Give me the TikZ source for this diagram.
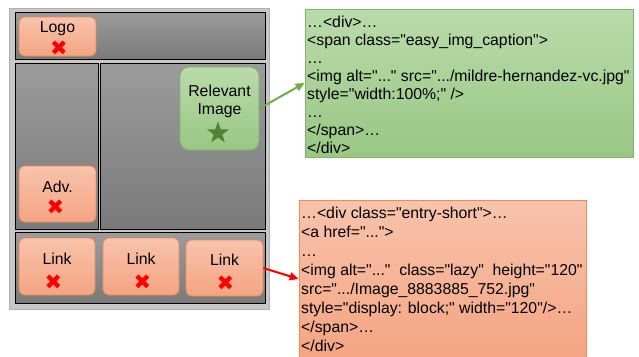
\documentclass[tikz,border=0pt]{standalone}
\usepackage{fontspec}
\setmainfont{Liberation Sans}[Ligatures=TeXOff]
\newfontfamily\symfont{DejaVu Sans}
\usetikzlibrary{arrows.meta,shapes.geometric}
\definecolor{outerfill}{HTML}{C8C8C8}
\definecolor{outerdraw}{HTML}{B2B2B2}
\definecolor{greytop}{HTML}{9C9C9C}
\definecolor{greybot}{HTML}{7A7A7A}
\definecolor{ortop}{HTML}{F8C3AC}
\definecolor{orbot}{HTML}{F4A482}
\definecolor{ordraw}{HTML}{EE8A52}
\definecolor{grtop}{HTML}{BADBAB}
\definecolor{grbot}{HTML}{99C784}
\definecolor{grdraw}{HTML}{82B366}
\definecolor{stargreen}{HTML}{548235}
\definecolor{arrgreen}{HTML}{70AD47}
\definecolor{xred}{HTML}{FF0000}
\tikzset{
  panel/.style={draw=black, line width=0.9pt, top color=greytop, bottom color=greybot, inner sep=0pt},
  orbox/.style={draw=ordraw, line width=0.8pt, rounded corners=6pt, top color=ortop, bottom color=orbot, inner sep=0pt},
  grbox/.style={draw=grdraw, line width=0.8pt, rounded corners=9pt, top color=grtop, bottom color=grbot, inner sep=0pt},
  lbl/.style={font=\fontsize{15.8}{18}\selectfont, inner sep=0pt, align=center},
  xmark/.style={text=xred, font=\symfont\fontsize{21}{21}\selectfont, inner sep=0pt},
  code/.style={font=\fontsize{15.8}{18}\selectfont, inner sep=0pt, align=left, anchor=north west},
  conn/.style={line width=2pt, -{Triangle[length=9pt,width=8pt]}}
}
\begin{document}
\begin{tikzpicture}[x=1pt,y=-1pt]
\useasboundingbox (0,0) rectangle (639,356);
% outer frame
\draw[draw=outerdraw, fill=outerfill, line width=0.8pt] (9,8) rectangle (269,309);
% panels
\node[panel, minimum width=250pt, minimum height=47pt] (header) at (140,35.5) {};
\node[panel, minimum width=83pt, minimum height=166pt] (side) at (56.5,146) {};
\node[panel, minimum width=165pt, minimum height=166pt] (main) at (182.5,146) {};
\node[panel, minimum width=250pt, minimum height=71pt] (footer) at (140,267.5) {};
% logo
\node[orbox, minimum width=77pt, minimum height=39pt] (logo) at (57.5,36.5) {};
\node[lbl] (logot) at (57.5,29) {Logo};
\node[xmark] (logox) at (59,48) {✖};
% adv
\node[orbox, minimum width=77pt, minimum height=56pt] (adv) at (57.5,194) {};
\node[lbl] (advt) at (57.5,187) {Adv.};
\node[xmark] (advx) at (55.5,207) {✖};
% links
\node[orbox, minimum width=76pt, minimum height=57pt] (link1) at (57,266.5) {};
\node[lbl] (link1t) at (57,259) {Link};
\node[xmark] (link1x) at (53.5,282) {✖};
\node[orbox, minimum width=76pt, minimum height=57pt] (link2) at (141,266.5) {};
\node[lbl] (link2t) at (141,259) {Link};
\node[xmark] (link2x) at (142.5,282) {✖};
\node[orbox, minimum width=77pt, minimum height=56pt] (link3) at (224.5,268) {};
\node[lbl] (link3t) at (224.5,260) {Link};
\node[xmark] (link3x) at (225.5,283) {✖};
% relevant image
\node[grbox, minimum width=79pt, minimum height=83pt] (relimg) at (219.5,108.5) {};
\node[lbl] (relimgt) at (219.5,101.5) {Relevant\\Image};
\node[star, star points=5, star point ratio=2.5, fill=stargreen, inner sep=0pt, minimum size=23pt] (star) at (218,133) {};
% green code box
\node[draw=grdraw, line width=0.8pt, top color=grtop, bottom color=grbot, minimum width=328pt, minimum height=148pt, inner sep=0pt] (gbox) at (469,83) {};
\node[code] (gtext) at (307,15.5) {…<div>…\\
<span class="easy\_img\_caption">\\
…\\
<img alt="..." src=".../mildre-hernandez-vc.jpg"\\
style="width:100\%;" />\\
…\\
</span>…\\
</div>};
% orange code box
\node[draw=ordraw, line width=0.8pt, top color=ortop, bottom color=orbot, minimum width=287pt, minimum height=158pt, inner sep=0pt] (obox) at (442.5,279) {};
\node[code, font=\fontsize{15.8}{19}\selectfont] (otext) at (301,206.5) {…<div class="entry-short">…\\
<a href="...">\\
…\\
<img alt="..."\ \ class="lazy"\ \ height="120"\\
src=".../Image\_8883885\_752.jpg"\\
style="display: block;" width="120"/>…\\
</span>…\\
</div>};
% connectors
\draw[conn, draw=arrgreen, fill=arrgreen] (relimg.east) -- (gbox.west);
\draw[conn, draw=xred, fill=xred] (link3.east) -- (obox.west);
\end{tikzpicture}
\end{document}
